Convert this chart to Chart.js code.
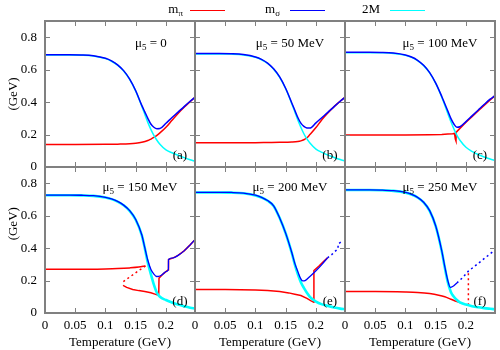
<!DOCTYPE html>
<html><head><meta charset="utf-8">
<script src="https://cdn.jsdelivr.net/npm/chart.js@4.4.0/dist/chart.umd.min.js"></script>
<style>
html,body{margin:0;padding:0;background:#fff;}
#wrap{position:relative;width:500px;height:350px;overflow:hidden;font-family:"Liberation Serif",serif;background:#fff;}
#wrap canvas{position:absolute;left:0;top:0;}
.lg{position:absolute;font-size:13px;color:#000;white-space:nowrap;line-height:1;text-align:right;}
.lg span{font-size:9px;position:relative;top:3px;}
.ln{position:absolute;height:1.5px;width:35px;}
</style></head><body>
<div id="wrap">
<canvas id="c0" width="500" height="350"></canvas>
<canvas id="c1" width="500" height="350"></canvas>
<canvas id="c2" width="500" height="350"></canvas>
<canvas id="c3" width="500" height="350"></canvas>
<canvas id="c4" width="500" height="350"></canvas>
<canvas id="c5" width="500" height="350"></canvas>
<div class="lg" style="left:150px;width:33px;top:2px;">m<span>π</span></div>
<div class="ln" style="left:190px;top:9.5px;background:#ff0000;"></div>
<div class="lg" style="left:240px;width:40px;top:2px;">m<span>σ</span></div>
<div class="ln" style="left:290px;top:9.5px;background:#0000ff;"></div>
<div class="lg" style="left:340px;width:40px;top:2px;">2M</div>
<div class="ln" style="left:390px;top:9.5px;background:#00ffff;"></div>
</div>
<script>
// ---------------- data ----------------
const mu5Values = ['0', '50 MeV', '100 MeV', '150 MeV', '200 MeV', '250 MeV'];
const panelTags = ['(a)', '(b)', '(c)', '(d)', '(e)', '(f)'];
const xTicks = [0, 0.05, 0.1, 0.15, 0.2];
const yTicks = [0, 0.2, 0.4, 0.6, 0.8];

const tGrid = [0,0.02,0.04,0.06,0.08,0.1,0.11,0.12,0.13,0.14,0.15,0.16,0.165,0.17,0.175,0.18,0.185,0.19,0.2,0.21,0.22,0.23,0.24,0.248];

// 2M
const twoM_a = [.69,.69,.69,.689,.684,.668,.652,.628,.592,.54,.468,.375,.325,.275,.232,.195,.165,.14,.105,.088,.072,.058,.045,.035];
const twoM_b = [.697,.697,.697,.696,.691,.676,.661,.638,.603,.553,.482,.39,.34,.29,.245,.205,.173,.148,.11,.09,.073,.059,.046,.037];
const twoM_c = [.705,.705,.705,.704,.700,.688,.676,.656,.625,.58,.515,.43,.38,.33,.28,.235,.195,.165,.122,.096,.077,.062,.049,.040];
const twoM_d = [.726,.726,.726,.725,.722,.712,.702,.687,.664,.63,.575,.48,.4,.31,.24,.175,.125,.1,.08,.065,.052,.042,.033,.027];
const twoM_e = [.743,.743,.743,.742,.738,.725,.712,.692,.66,.585,.49,.37,.3,.24,.19,.155,.125,.1,.07,.053,.043,.034,.027,.023];
const twoM_f = [.758,.758,.758,.757,.753,.742,.73,.712,.682,.63,.535,.38,.28,.19,.13,.1,.08,.066,.052,.042,.035,.03,.026,.023];

// m_sigma
const sigma_a = [.692,.692,.692,.691,.686,.67,.654,.63,.594,.542,.47,.38,.34,.30,.265,.245,.236,.237,.27,.305,.338,.372,.405,.43];
const sigma_b = [.699,.699,.699,.698,.693,.678,.663,.64,.605,.555,.484,.395,.35,.305,.27,.25,.241,.24,.272,.305,.338,.372,.405,.43];
const sigma_c = [.707,.707,.707,.706,.702,.69,.678,.658,.627,.582,.517,.435,.39,.345,.3,.265,.245,.248,.28,.315,.35,.385,.418,.44];
const sigmaT_d = [0,0.02,0.04,0.06,0.08,0.1,0.11,0.12,0.13,0.14,0.15,0.16,0.165,0.17,0.175,0.18,0.185,0.19,0.195,0.2,0.204,0.2042,0.212,0.22,0.23,0.24,0.248];
const sigma_d  = [.727,.727,.727,.726,.723,.713,.703,.688,.665,.631,.576,.482,.403,.325,.27,.24,.225,.228,.24,.255,.266,.33,.34,.355,.383,.42,.452];
const sigmaT_e = [0,0.02,0.04,0.06,0.08,0.1,0.11,0.12,0.13,0.14,0.15,0.16,0.165,0.17,0.175,0.178,0.182,0.19,0.2,0.21,0.219];
const sigma_e  = [.744,.744,.744,.743,.739,.726,.713,.693,.661,.586,.491,.373,.306,.255,.21,.198,.2,.225,.26,.3,.34];
const sigmaDotT_e = [0.219,0.226,0.233,0.2365,0.2366,0.244];
const sigmaDot_e  = [.34,.36,.385,.395,.425,.445];
const sigmaT_f = [0,0.02,0.04,0.06,0.08,0.1,0.11,0.12,0.13,0.14,0.15,0.16,0.165,0.17,0.174,0.178,0.185];
const sigma_f  = [.759,.759,.759,.758,.754,.743,.731,.713,.683,.631,.536,.383,.286,.2,.158,.163,.185];
const sigmaDotT_f = [0.185,0.195,0.204,0.215,0.225,0.235,0.248];
const sigmaDot_f  = [.185,.22,.258,.29,.32,.35,.388];

// m_pi
const piT_ab = [0,0.05,0.1,0.12,0.14,0.15,0.16,0.17,0.175,0.18,0.185,0.19,0.2,0.21,0.22,0.23,0.24,0.248];
const pi_a = [.139,.139,.14,.141,.143,.146,.152,.163,.172,.182,.195,.21,.245,.288,.33,.368,.403,.43];
const pi_b = [.15,.15,.15,.151,.152,.153,.154,.157,.161,.168,.18,.2,.243,.293,.335,.372,.405,.43];
const piT_c = [0,0.05,0.1,0.14,0.16,0.17,0.178,0.181,0.1825,0.1835,0.184,0.19,0.198,0.2,0.21,0.22,0.23,0.24,0.248];
const pi_c  = [.197,.197,.198,.199,.201,.203,.205,.207,.17,.16,.215,.238,.268,.276,.31,.345,.38,.413,.44];
const piUpT_d = [0,0.05,0.1,0.12,0.14,0.155,0.166];
const piUp_d  = [.27,.27,.272,.274,.278,.283,.29];
const piDotT_d = [0.166,0.128];
const piDot_d  = [.29,.19];
const piLowT_d = [0.129,0.135,0.145,0.155,0.165,0.175,0.183,0.188,0.1885,0.195,0.203,0.204,0.2042,0.212,0.22,0.23,0.24,0.248];
const piLow_d  = [.17,.158,.145,.138,.132,.125,.115,.108,.215,.24,.264,.266,.33,.34,.355,.383,.42,.452];
const piT_e = [0,0.05,0.1,0.12,0.14,0.155,0.165,0.175,0.185,0.192,0.1965,0.1966,0.205,0.212,0.219];
const pi_e  = [.145,.145,.142,.138,.132,.124,.116,.108,.09,.075,.066,.262,.29,.315,.34];
const piT_f = [0,0.05,0.1,0.12,0.14,0.155,0.165,0.175,0.185,0.19];
const pi_f  = [.133,.133,.13,.127,.12,.11,.1,.085,.07,.064];
const piDotT_f = [0.204,0.204];
const piDot_f  = [.048,.26];

// ---------------- styling / layout ----------------
const RED = '#ff0000', BLUE = '#0000ff', CYAN = '#00ffff';
const FONT = 'Liberation Serif';
const colLeft = [45, 195, 345], colRight = [195, 345, 495];
const rowTop = [21, 167], rowBottom = [167, 313];

function pts(xs, ys) { return xs.map((x, i) => ({x: x, y: ys[i]})); }
function ds(xs, ys, color, order, dotted, straight, width) {
  return {
    data: pts(xs, ys), borderColor: color, backgroundColor: color,
    borderWidth: width || 1.5, pointRadius: 0, fill: false, order: order,
    borderDash: dotted ? [2, 3] : [],
    cubicInterpolationMode: straight ? 'default' : 'monotone', tension: 0
  };
}
const fmt = v => String(Number(Number(v).toFixed(3)));

const framePlugin = {
  id: 'frame',
  afterDraw(chart) {
    const {ctx, chartArea: a, scales} = chart;
    ctx.save();
    ctx.strokeStyle = '#808080';
    ctx.lineWidth = 1;
    ctx.beginPath();
    scales.x.ticks.forEach(t => {
      const p = Math.round(scales.x.getPixelForValue(t.value)) + 0.5;
      ctx.moveTo(p, a.bottom); ctx.lineTo(p, a.bottom - 5);
      ctx.moveTo(p, a.top); ctx.lineTo(p, a.top + 5);
    });
    scales.y.ticks.forEach(t => {
      const p = Math.round(scales.y.getPixelForValue(t.value)) + 0.5;
      ctx.moveTo(a.left, p); ctx.lineTo(a.left + 5, p);
      ctx.moveTo(a.right, p); ctx.lineTo(a.right - 5, p);
    });
    ctx.stroke();
    ctx.lineWidth = 2;
    ctx.strokeRect(a.left, a.top, a.right - a.left, a.bottom - a.top);
    ctx.restore();
  }
};

const textPlugin = {
  id: 'panelText',
  afterDatasetsDraw(chart, args, o) {
    const {ctx, scales: {x, y}} = chart;
    ctx.save();
    ctx.fillStyle = '#000';
    ctx.textBaseline = 'alphabetic';
    const big = '13px "' + FONT + '"', small = '9px "' + FONT + '"';
    const parts = [['μ', big, 0], ['5', small, 3], [' = ' + o.mu, big, 0]];
    let w = 0;
    parts.forEach(p => { ctx.font = p[1]; p.push(ctx.measureText(p[0]).width); w += p[3]; });
    let cx = x.getPixelForValue(o.muX) - w / 2;
    const by = y.getPixelForValue(o.muY);
    parts.forEach(p => { ctx.font = p[1]; ctx.fillText(p[0], cx, by + p[2]); cx += p[3]; });
    ctx.font = big;
    ctx.textAlign = 'center';
    ctx.textBaseline = 'middle';
    ctx.fillText(o.tag, x.getPixelForValue(o.tagX), y.getPixelForValue(o.tagY));
    ctx.restore();
  }
};

// lower row: wider cyan under the blue gives the blended look of the reference
const panelSets = [
  [ds(piT_ab, pi_a, RED, 3), ds(tGrid, twoM_a, CYAN, 2), ds(tGrid, sigma_a, BLUE, 1)],
  [ds(piT_ab, pi_b, RED, 3), ds(tGrid, twoM_b, CYAN, 2), ds(tGrid, sigma_b, BLUE, 1)],
  [ds(piT_c, pi_c, RED, 3, false, true), ds(tGrid, twoM_c, CYAN, 2), ds(tGrid, sigma_c, BLUE, 1)],
  [ds(piUpT_d, piUp_d, RED, 3), ds(piDotT_d, piDot_d, RED, 3, true, true), ds(piLowT_d, piLow_d, RED, 3, false, true),
   ds(tGrid, twoM_d, CYAN, 2, false, false, 2.6), ds(sigmaT_d, sigma_d, BLUE, 1, false, false, 1.3)],
  [ds(piT_e, pi_e, RED, 3, false, true), ds(tGrid, twoM_e, CYAN, 2, false, false, 2.6), ds(sigmaT_e, sigma_e, BLUE, 1, false, false, 1.3),
   ds(sigmaDotT_e, sigmaDot_e, BLUE, 1, true, true)],
  [ds(piT_f, pi_f, RED, 3), ds(piDotT_f, piDot_f, RED, 3, true, true), ds(tGrid, twoM_f, CYAN, 2, false, false, 2.6),
   ds(sigmaT_f, sigma_f, BLUE, 1, false, false, 1.3), ds(sigmaDotT_f, sigmaDot_f, BLUE, 1, true, true)]
];

for (let i = 0; i < 6; i++) {
  const col = i % 3, row = Math.floor(i / 3);
  const leftCol = col === 0, bottomRow = row === 1;
  new Chart(document.getElementById('c' + i), {
    type: 'line',
    data: {datasets: panelSets[i]},
    plugins: [framePlugin, textPlugin],
    options: {
      responsive: false, animation: false, devicePixelRatio: 1, events: [],
      layout: {padding: {left: colLeft[col] - 45, right: 500 - colRight[col], top: rowTop[row], bottom: 350 - rowBottom[row] - 37}},
      plugins: {
        legend: {display: false}, tooltip: {enabled: false},
        panelText: {mu: mu5Values[i], tag: panelTags[i], muX: i === 0 ? 0.175 : 0.157, muY: row === 0 ? 0.74 : 0.752, tagX: 0.223, tagY: 0.07}
      },
      scales: {
        x: {
          type: 'linear', min: 0, max: 0.248,
          grid: {display: false, drawTicks: false}, border: {display: false},
          afterBuildTicks: s => { s.ticks = xTicks.map(v => ({value: v})); },
          ticks: {display: bottomRow, includeBounds: false, padding: 5, color: '#000', maxRotation: 0, autoSkip: false,
                  font: {family: FONT, size: 13}, callback: fmt},
          title: {display: bottomRow, text: 'Temperature (GeV)', color: '#000', font: {family: FONT, size: 13}, padding: {top: 0, bottom: 0}},
          afterFit: s => { s.height = 37; s.paddingLeft = 0; s.paddingRight = 0; }
        },
        y: {
          type: 'linear', min: 0, max: 0.9,
          grid: {display: false, drawTicks: false}, border: {display: false},
          afterBuildTicks: s => { s.ticks = yTicks.map(v => ({value: v})); },
          ticks: {display: leftCol, includeBounds: false, padding: 8, color: '#000', autoSkip: false,
                  font: {family: FONT, size: 13}, callback: fmt},
          title: {display: leftCol, text: row === 0 ? '(GeV)' : '          (GeV)', color: '#000', font: {family: FONT, size: 13}, padding: {top: 6, bottom: 0}},
          afterFit: s => { s.width = 45; s.paddingTop = 0; s.paddingBottom = 0; }
        }
      }
    }
  });
}
</script>
</body></html>
